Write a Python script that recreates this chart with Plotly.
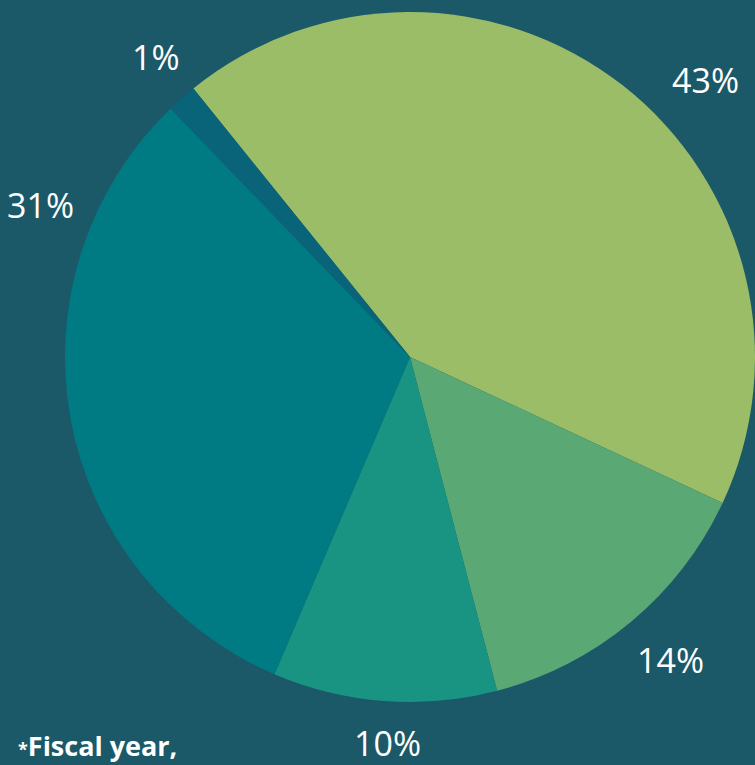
import plotly.graph_objects as go

categories = ["A", "B", "C", "D", "E"]
values = [42.8, 14.0, 10.5, 31.4, 1.4]
labels = ["43%", "14%", "10%", "31%", "1%"]
colors = ["#9bbd67", "#5aa873", "#1a9482", "#007a83", "#0a6479"]

W, H = 755, 765
BG = "#1b5968"

fig = go.Figure(go.Pie(
    labels=categories,
    values=values,
    sort=False,
    direction="clockwise",
    rotation=-38.9,
    marker=dict(colors=colors, line=dict(width=0)),
    textinfo="none",
    hoverinfo="none",
    showlegend=False,
    domain=dict(x=[65 / W, 1.0], y=[(H - 703) / H, (H - 11) / H]),
))

label_pos = [(705, 80), (670, 660), (387, 743), (40, 205), (156, 57)]
for txt, (px, py) in zip(labels, label_pos):
    fig.add_annotation(x=px / W, y=1 - py / H, xref="paper", yref="paper",
                       text=txt, showarrow=False, xanchor="center", yanchor="middle",
                       font=dict(family="Open Sans", size=34, color="white"))

fig.add_annotation(x=16 / W, y=1 - 745 / H, xref="paper", yref="paper",
                   text="<b><span style='font-size:18px'>*</span>Fiscal year,</b>",
                   showarrow=False, xanchor="left", yanchor="middle",
                   font=dict(family="Open Sans", size=27, color="white"))

fig.update_layout(
    width=W, height=H,
    margin=dict(l=0, r=0, t=0, b=0),
    paper_bgcolor=BG, plot_bgcolor=BG,
)

fig.write_html("out.html", config={"displayModeBar": False},
               post_script="document.body.style.margin='0';document.body.style.overflow='hidden';document.body.style.background='%s';" % BG)
